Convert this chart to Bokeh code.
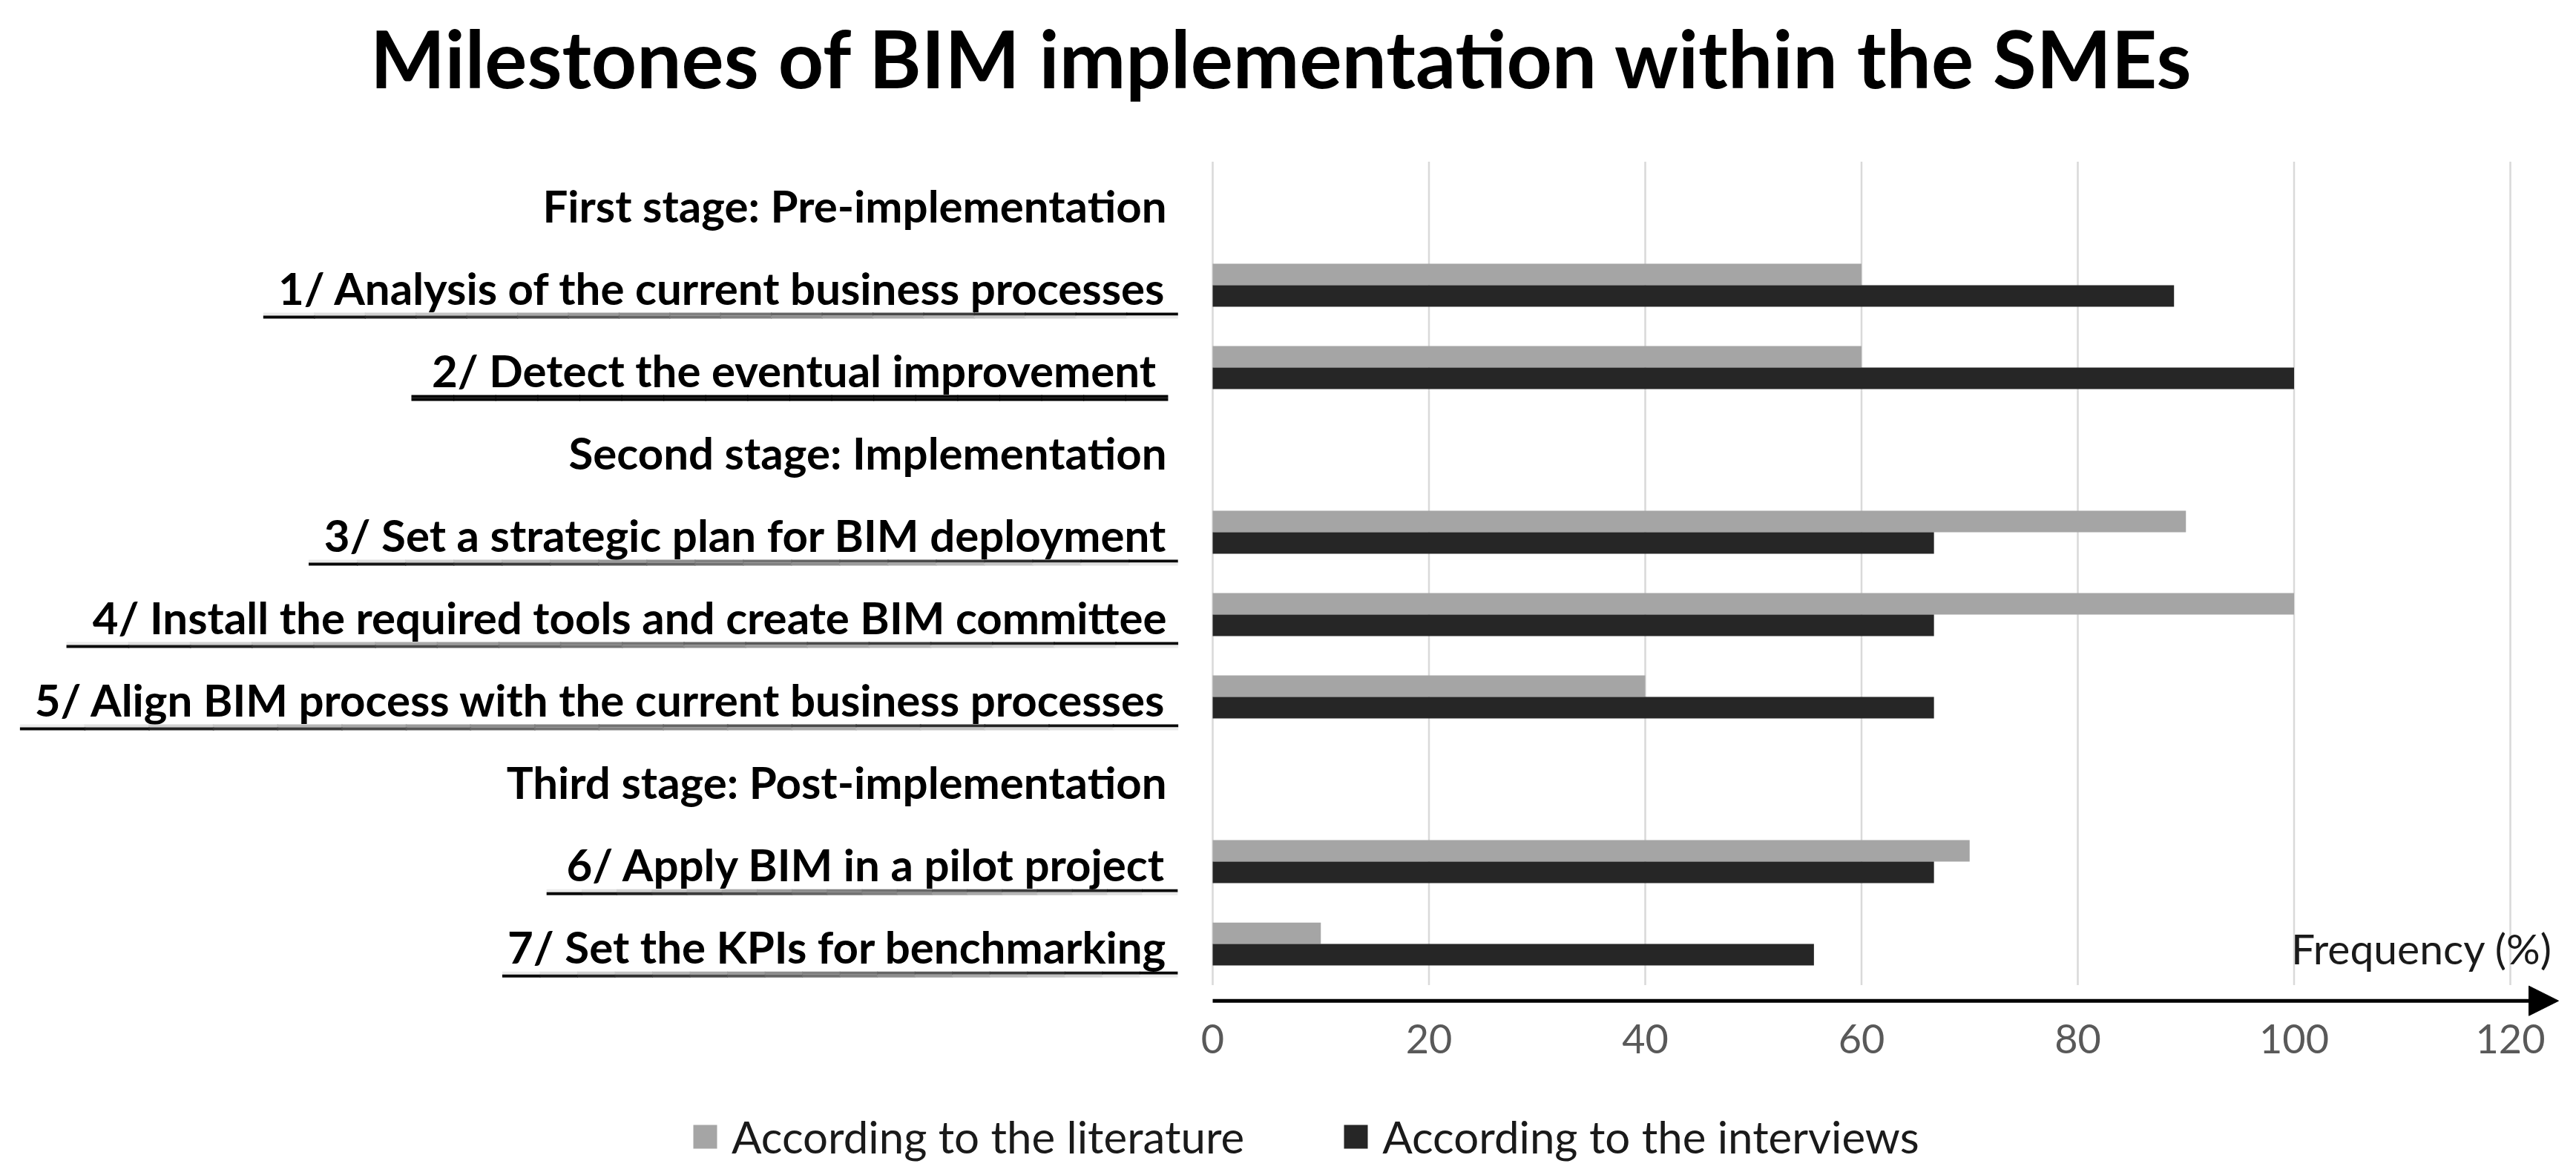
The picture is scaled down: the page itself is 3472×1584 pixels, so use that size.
from bokeh.plotting import figure
from bokeh.models import ColumnDataSource, Range1d, Arrow, NormalHead, LinearAxis, FixedTicker
from bokeh.core.properties import value
from bokeh.embed import file_html
from bokeh.resources import INLINE

# ---------------- data ----------------
categories = [
    "First stage: Pre-implementation",
    "1/ Analysis of the current business processes",
    "2/ Detect the eventual improvement ",
    "Second stage: Implementation",
    "3/ Set a strategic plan for BIM deployment",
    "4/ Install the required tools and create BIM committee",
    "5/ Align BIM process with the current business processes",
    "Third stage: Post-implementation",
    "6/ Apply BIM in a pilot project",
    "7/ Set the KPIs for benchmarking",
]
literature = [None, 60, 60, None, 90, 100, 40, None, 70, 10]
interviews = [None, 88.9, 100, None, 66.7, 66.7, 66.7, None, 66.7, 55.6]
x_ticks = [0, 20, 40, 60, 80, 100, 120]
series_names = ["According to the literature", "According to the interviews"]
title_text = "Milestones of BIM implementation within the SMEs"
axis_note = "Frequency (%)"

# ---------------- layout / style ----------------
W, H = 3456, 1568
TOP = 150
PX0 = 1634.0      # figure pixel of x = 0
PXU = 14.575      # pixels per x unit
ROW0 = 272.0      # figure pixel of first row centre
ROWP = 111.1      # row pitch in pixels
BAR_H = 0.261
GREY = "#A5A5A5"
DARK = "#262626"
FONT = "Lato"

x_start = -PX0 / PXU
x_end = (W - PX0) / PXU
y_top = (TOP - ROW0) / ROWP
y_bot = (H - ROW0) / ROWP

p = figure(width=W, height=H,
           x_range=Range1d(x_start, x_end), y_range=Range1d(y_bot, y_top),
           output_backend="svg", toolbar_location=None,
           x_axis_location=None, y_axis_location=None,
           min_border_left=0, min_border_right=0,
           min_border_top=TOP, min_border_bottom=0)
p.outline_line_color = None
p.background_fill_color = "white"
p.border_fill_color = "white"
p.xgrid.visible = False
p.ygrid.visible = False

p.title.text = title_text
p.title.align = "center"
p.title.text_font = FONT
p.title.text_font_style = "bold"
p.title.text_font_size = "107px"
p.title.text_color = "black"
p.title.standoff = 20

n_rows = len(categories)
rows = list(range(n_rows))

# vertical gridlines
p.segment(x0=x_ticks, x1=x_ticks, y0=[-0.5] * len(x_ticks), y1=[n_rows - 0.5] * len(x_ticks),
          line_color="#D9D9D9", line_width=2.5)

# bars
idx = [i for i in rows if literature[i] is not None]
src = ColumnDataSource(dict(
    y_lit=[i - BAR_H / 2 for i in idx],
    y_int=[i + BAR_H / 2 for i in idx],
    lit=[literature[i] for i in idx],
    intv=[interviews[i] for i in idx],
))
p.hbar(y="y_lit", right="lit", left=0, height=BAR_H, source=src,
       fill_color=GREY, line_color=None, legend_label=series_names[0])
p.hbar(y="y_int", right="intv", left=0, height=BAR_H, source=src,
       fill_color=DARK, line_color=None, legend_label=series_names[1])

# category labels
label_x = -4.25
p.text(x=[label_x] * n_rows, y=[i + 0.03 for i in rows], text=categories,
       text_align="right", text_baseline="middle",
       text_font=value(FONT), text_font_style="bold", text_font_size="60px",
       text_color="black")

# decorative gradient underlines under numbered items (start in x units)
underline_start = {1: -87.8, 2: -74.1, 4: -83.6, 5: -106.0, 6: -110.3, 8: -61.6, 9: -65.7}
underline_end = {1: -3.3, 2: -4.2, 4: -3.3, 5: -3.3, 6: -3.3, 8: -3.3, 9: -3.3}
solid = {2}
NSEG = 18
off = 2.0 / ROWP
x0s, x1s, y0s, y1s, cols = [], [], [], [], []
def shade(t):
    v = int(round(242 * t))
    return "#%02x%02x%02x" % (v, v, v)
for r, xs in underline_start.items():
    xe = underline_end[r]
    yc = r + 0.37
    step = (xe - xs) / NSEG
    for k in range(NSEG):
        a = xs + k * step
        b = a + step * 1.02
        t = (k + 0.5) / NSEG
        if r in solid:
            ct, cb = "black", "black"
        else:
            ct, cb = shade(1 - t), shade(t)
        x0s += [a, a]; x1s += [b, b]
        y0s += [yc - off, yc + off]; y1s += [yc - off, yc + off]
        cols += [ct, cb]
p.segment(x0=x0s, x1=x1s, y0=y0s, y1=y1s, line_color=cols, line_width=4)

# axis arrow
arrow_y = n_rows - 0.5 + 0.19
p.add_layout(Arrow(end=NormalHead(size=40, fill_color="black", line_color="black", line_width=1),
                   x_start=0, y_start=arrow_y, x_end=124.46, y_end=arrow_y,
                   line_width=5, line_color="black"))

# tick labels
xaxis = LinearAxis(fixed_location=arrow_y, bounds=(0, 120), ticker=FixedTicker(ticks=x_ticks))
xaxis.axis_line_color = None
xaxis.major_tick_line_color = None
xaxis.minor_tick_line_color = None
xaxis.major_tick_out = 0
xaxis.major_tick_in = 0
xaxis.major_label_standoff = 32
xaxis.major_label_text_font = FONT
xaxis.major_label_text_font_size = "54px"
xaxis.major_label_text_color = "#595959"
p.add_layout(xaxis, "below")

# axis note
p.text(x=[123.9], y=[n_rows - 1 + 0.05], text=[axis_note], text_align="right",
       text_baseline="middle", text_font=value(FONT), text_font_size="57px",
       text_color="#1a1a1a")

# legend
lg = p.legend[0]
lg.orientation = "horizontal"
lg.location = (930, 0)
lg.padding = 0
lg.margin = 0
lg.spacing = 130
lg.glyph_width = 40
lg.glyph_height = 40
lg.label_standoff = 16
lg.label_text_font = FONT
lg.label_text_font_size = "60px"
lg.label_text_color = "#1a1a1a"
lg.background_fill_alpha = 0
lg.border_line_color = None

open("out.html", "w").write(file_html(p, INLINE))
